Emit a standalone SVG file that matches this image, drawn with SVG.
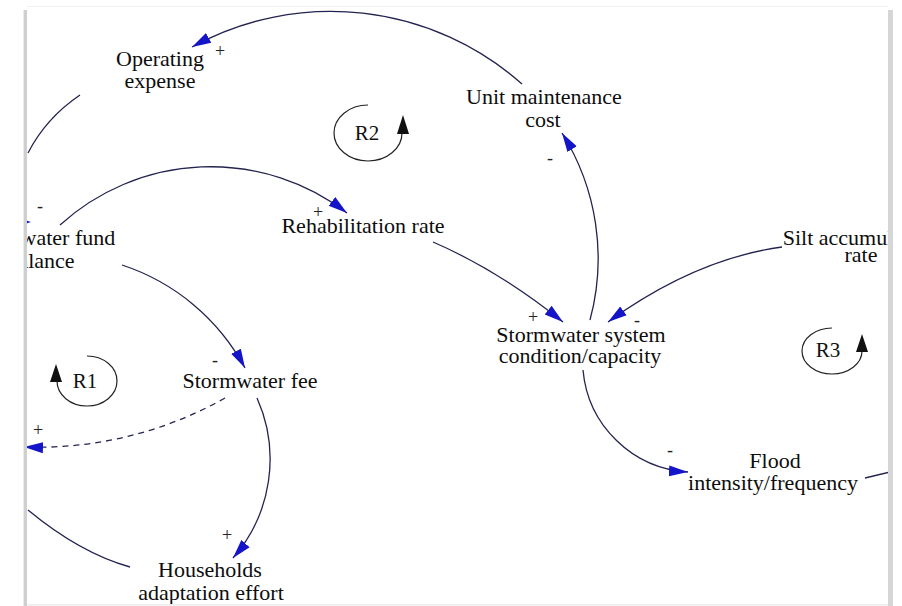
<svg xmlns="http://www.w3.org/2000/svg" width="902" height="606" viewBox="0 0 902 606">
<defs>
<style>
.node text{font-family:"Liberation Serif","Times New Roman",serif;font-size:22px;fill:#0d0d0d;text-anchor:middle}
.pol{font-family:"Liberation Serif","Times New Roman",serif;font-size:18px;fill:#222;text-anchor:middle}
.lk{fill:none;stroke:#23234f;stroke-width:1.3}
.arr{marker-end:url(#ah)}
.dash{stroke-dasharray:6 5}
.loop path{fill:none;stroke:#222;stroke-width:1.2}
.loop polygon{fill:#111}
.loop text{font-family:"Liberation Serif","Times New Roman",serif;font-size:21px;fill:#111;text-anchor:middle}
</style>
<marker id="ah" markerUnits="userSpaceOnUse" markerWidth="22" markerHeight="14" refX="19" refY="7" orient="auto">
<path d="M0,1.5 L19,7 L0,12.5 z" fill="#1414c8"/>
</marker>
<clipPath id="page"><rect x="27" y="7" width="861" height="597"/></clipPath>
</defs>
<rect x="0" y="0" width="902" height="606" fill="#ffffff"/>
<rect x="27" y="6" width="861" height="1" fill="#f0f0f0"/>
<rect x="27" y="604" width="861" height="1.5" fill="#ececec"/>
<rect x="23" y="10" width="1" height="596" fill="#ececec"/>
<rect x="24" y="10" width="3" height="596" fill="#cfcfcf"/>
<rect x="888" y="10" width="5" height="596" fill="#d6d6d6"/>
<g clip-path="url(#page)">
<g id="connectors">
<path class="lk arr" d="M522,84 A288,288 0 0 0 192,47"/>
<path class="lk arr" d="M590,320 A236,236 0 0 0 562,133"/>
<path class="lk arr" d="M583,370 A112,112 0 0 0 688,472"/>
<path class="lk arr" d="M433,242 Q498,270 563,322"/>
<path class="lk arr" d="M782,247 Q695,259 608,322"/>
<path class="lk arr" d="M60,225 A224,224 0 0 1 347,213"/>
<path class="lk arr" d="M122,265 A216,216 0 0 1 245,368"/>
<path class="lk arr" d="M257,398 A150,150 0 0 1 233,558"/>
<path class="lk arr dash" d="M225,398 A382,382 0 0 1 24,447"/>
<path class="lk" d="M130,567 Q80,553 28,510"/>
<path class="lk" d="M80,95 Q46,118 28,153"/>
<path class="lk" d="M865,478 L890,472"/>
<polygon points="12,216 31,222 12,228" fill="#1414c8"/>
<text class="pol" x="220" y="57">+</text>
<text class="pol" x="550" y="164">-</text>
<text class="pol" x="318" y="218">+</text>
<text class="pol" x="533" y="323">+</text>
<text class="pol" x="637" y="326">-</text>
<text class="pol" x="215" y="366">-</text>
<text class="pol" x="38" y="436">+</text>
<text class="pol" x="227" y="541">+</text>
<text class="pol" x="670" y="456">-</text>
<text class="pol" x="40" y="212">-</text>
</g>
<g id="operating-expense" class="node"><text x="160" y="66">Operating</text><text x="160" y="88">expense</text></g>
<g id="unit-maintenance-cost" class="node"><text x="544" y="104">Unit maintenance</text><text x="543" y="127">cost</text></g>
<g id="rehabilitation-rate" class="node"><text x="363" y="233">Rehabilitation rate</text></g>
<g id="stormwater-fund-balance" class="node"><text x="41" y="245">Stormwater fund</text><text x="41" y="268">balance</text></g>
<g id="stormwater-fee" class="node"><text x="250" y="388">Stormwater fee</text></g>
<g id="stormwater-system" class="node"><text x="581" y="342">Stormwater system</text><text x="580" y="363">condition/capacity</text></g>
<g id="silt-accumulation-rate" class="node"><text x="860" y="245">Silt accumulation</text><text x="861" y="262">rate</text></g>
<g id="flood" class="node"><text x="775" y="468">Flood</text><text x="773" y="490">intensity/frequency</text></g>
<g id="households" class="node"><text x="210" y="577">Households</text><text x="211" y="600">adaptation effort</text></g>
<g id="loop-r1" class="loop"><path d="M87,356 A30,25 0 1 1 57,381"/><polygon points="56,364 50,382 62,382"/><text x="85" y="388">R1</text></g>
<g id="loop-r2" class="loop"><path d="M368,105 A34,28 0 1 0 402,133"/><polygon points="403,115 397,134 409,134"/><text x="367" y="140">R2</text></g>
<g id="loop-r3" class="loop"><path d="M832,328 A30,23 0 1 0 862,351"/><polygon points="862,334 856,352 868,352"/><text x="828" y="357">R3</text></g>
</g>
</svg>
